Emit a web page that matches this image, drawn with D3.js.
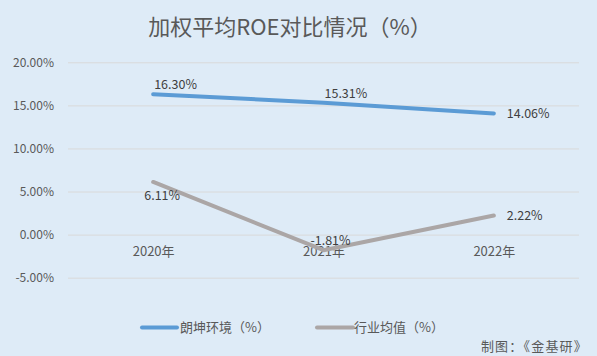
<!DOCTYPE html>
<html>
<head>
<meta charset="utf-8">
<script src="https://cdn.jsdelivr.net/npm/d3@7/dist/d3.min.js"></script>
<style>
  html, body { margin: 0; padding: 0; background: #DEEBF7; }
  svg { display: block; }
  text { font-family: "Noto Sans CJK SC", "Noto Sans", sans-serif; }
</style>
</head>
<body>
<svg id="chart" width="597" height="356"></svg>
<script>
const title = "加权平均ROE对比情况（%）";
const categories = ["2020年", "2021年", "2022年"];
const seriesNames = ["朗坤环境（%）", "行业均值（%）"];
const companyValues = [16.30, 15.31, 14.06];
const industryValues = [6.11, -1.81, 2.22];
const yTicks = [-5, 0, 5, 10, 15, 20];
const companyLabelPlacement = ["aboveRight", "aboveRight", "right"];
const industryLabelPlacement = ["belowRight", "above", "right"];
const sourceText = "制图：《金基研》";

const W = 597, H = 356;
const svg = d3.select("#chart");
svg.append("rect").attr("width", W).attr("height", H).attr("fill", "#DEEBF7");

const locale = d3.formatLocale({ decimal: ".", thousands: ",", grouping: [3], currency: ["", ""], minus: "-" });
const fmt = v => locale.format(".2f")(v) + "%";

const x = d3.scalePoint().domain(categories).range([68, 579]).padding(0.5);
const y = d3.scaleLinear().domain([-5, 20]).range([277.7, 62.3]);

// title
svg.append("text").attr("x", 290).attr("y", 34.5)
  .attr("text-anchor", "middle").attr("font-size", 22).attr("fill", "#595959")
  .text(title);

// y axis with gridlines
const yAxis = d3.axisLeft(y).tickValues(yTicks).tickSize(-(579 - 68))
  .tickFormat(fmt).tickPadding(14);
const gy = svg.append("g").attr("transform", "translate(68,0)").call(yAxis);
gy.select(".domain").remove();
gy.selectAll(".tick line").attr("stroke", "#D9D9D9").attr("stroke-width", 1);
gy.selectAll(".tick text").attr("font-size", 12).attr("fill", "#595959")
  .attr("font-family", "\"Noto Sans CJK SC\", sans-serif");

// x category labels (at zero line)
const xAxis = d3.axisBottom(x).tickSize(0).tickPadding(12);
const gx = svg.append("g").attr("transform", `translate(0,${y(0)})`).call(xAxis);
gx.select(".domain").remove();
gx.selectAll(".tick text").attr("font-size", 13).attr("fill", "#595959")
  .attr("font-family", "\"Noto Sans CJK SC\", sans-serif");

const colors = ["#5B9BD5", "#ABA6A6"];
const allSeries = [companyValues, industryValues];
const placements = [companyLabelPlacement, industryLabelPlacement];

const line = d3.line().x((d, i) => x(categories[i])).y(d => y(d));

allSeries.forEach((vals, si) => {
  svg.append("path").datum(vals)
    .attr("d", line)
    .attr("fill", "none")
    .attr("stroke", colors[si])
    .attr("stroke-width", 4)
    .attr("stroke-linecap", "round")
    .attr("stroke-linejoin", "round");
});

const offsets = {
  aboveRight: { dx: 1, dy: -5, anchor: "start" },
  right: { dx: 13, dy: 4.5, anchor: "start" },
  belowRight: { dx: 9, dy: 18, anchor: "middle" },
  above: { dx: 7, dy: -5.5, anchor: "middle" }
};

allSeries.forEach((vals, si) => {
  vals.forEach((v, i) => {
    const o = offsets[placements[si][i]];
    svg.append("text")
      .attr("x", x(categories[i]) + o.dx)
      .attr("y", y(v) + o.dy)
      .attr("text-anchor", o.anchor)
      .attr("font-size", 12.5)
      .attr("fill", "#404040")
      .text(fmt(v));
  });
});

// legend
const legendItems = [
  { name: seriesNames[0], color: colors[0], x0: 142, x1: 177, tx: 180 },
  { name: seriesNames[1], color: colors[1], x0: 317, x1: 353, tx: 354 }
];
legendItems.forEach(it => {
  svg.append("line").attr("x1", it.x0).attr("x2", it.x1)
    .attr("y1", 327.5).attr("y2", 327.5)
    .attr("stroke", it.color).attr("stroke-width", 4).attr("stroke-linecap", "round");
  svg.append("text").attr("x", it.tx).attr("y", 332)
    .attr("font-size", 13).attr("fill", "#595959").text(it.name);
});

svg.append("text").attr("x", 588).attr("y", 350.5)
  .attr("text-anchor", "end").attr("font-size", 13).attr("fill", "#595959")
  .attr("letter-spacing", 1.2)
  .text(sourceText);
</script>
</body>
</html>
